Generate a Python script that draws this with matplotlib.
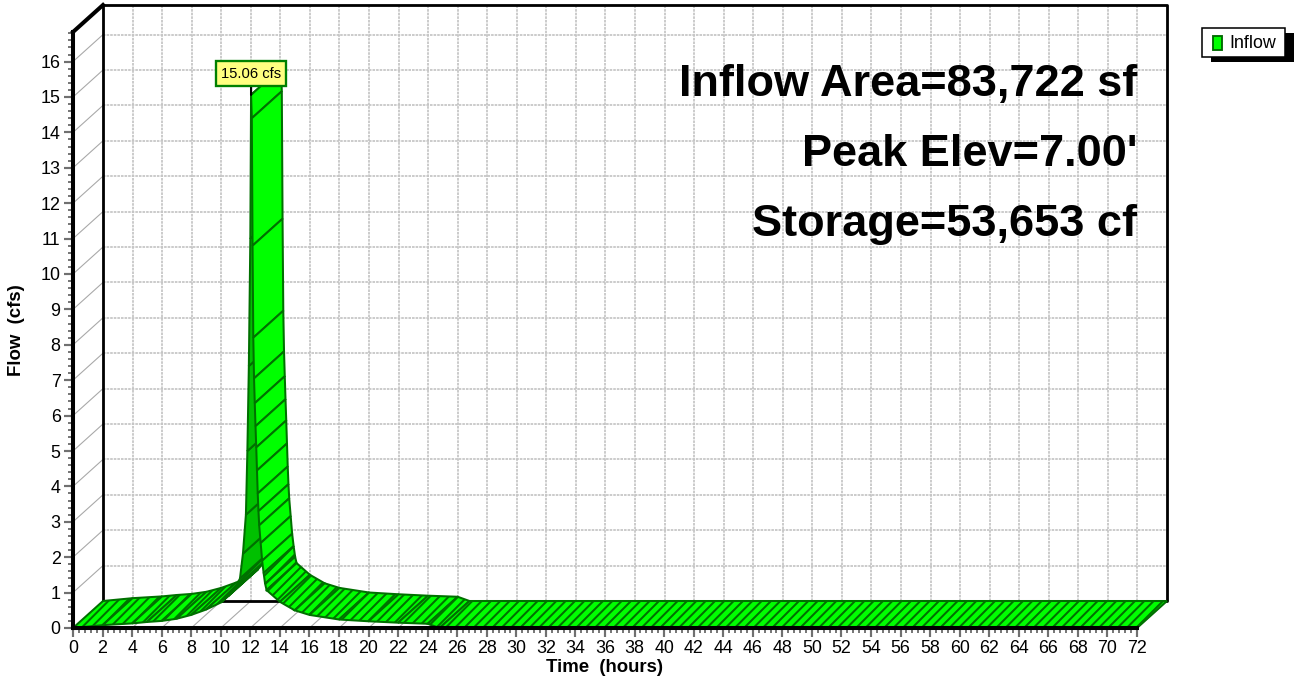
import numpy as np
import matplotlib
matplotlib.use('Agg')
import matplotlib.pyplot as plt
from matplotlib.patches import Polygon, Rectangle

matplotlib.rcParams.update({
    'font.family': ['Liberation Sans', 'DejaVu Sans'],
    'hatch.linewidth': 1.3,
})

# inflow hydrograph
hours = [0, 2, 4, 5, 6, 7, 8, 9, 10, 10.5, 11, 11.3, 11.5, 11.7, 11.8, 11.9, 12.0, 12.05,
         12.10, 12.15, 12.20, 12.25, 12.30, 12.35, 12.40, 12.45, 12.50, 12.55, 12.60,
         12.7, 12.8, 12.9, 13.0, 13.1, 14.0, 15.0, 16.0, 18.0, 20.0, 22.0, 24.0, 24.8, 72.0]
flow = [0.0, 0.08, 0.13, 0.17, 0.20, 0.26, 0.37, 0.52, 0.72, 0.90, 1.15, 1.40, 2.1, 3.2, 5.0, 7.4, 11.0, 15.06,
        14.4, 10.8, 8.2, 7.05, 6.35, 5.7, 5.1, 4.45, 3.8, 3.3, 2.9,
        2.4, 1.9, 1.55, 1.25, 1.07, 0.74, 0.50, 0.37, 0.24, 0.19, 0.15, 0.12, 0.0, 0.0]

x_ticks = list(range(0, 73, 2))
y_ticks = list(range(0, 17))
info_lines = ["Inflow Area=83,722 sf", "Peak Elev=7.00'", "Storage=53,653 cf"]
series_name = "Inflow"

W, H, DPI = 1294, 686, 112
# pixel layout of the 3d box
X0, X72, Y0 = 73, 1137, 628
XS = (X72 - X0) / 72.0        # px per hour
YS = 35.4                     # px per cfs
DX = 30 / XS                  # depth offset in data units
DY = 27 / YS
YMAX = (Y0 - 32) / YS
XEND = 72

fig = plt.figure(figsize=(W / DPI, H / DPI), dpi=DPI)
ax = fig.add_axes([X0 / W, (H - Y0) / H, (X72 + 30 - X0) / W, (Y0 - 5) / H])
ax.set_xlim(0, XEND + DX)
ax.set_ylim(0, YMAX + DY)
ax.set_facecolor('none')

for s in ['top', 'right']:
    ax.spines[s].set_visible(False)
ax.spines['left'].set_bounds(0, YMAX)
ax.spines['bottom'].set_bounds(0, XEND)
for s in ['left', 'bottom']:
    ax.spines[s].set_linewidth(2.6)
    ax.spines[s].set_zorder(6)

ax.set_xticks(x_ticks)
ax.set_xticks(np.arange(0, XEND + 0.01, 0.4), minor=True)
ax.set_yticks(y_ticks)
ax.set_yticks(np.arange(0, YMAX, 0.2), minor=True)
ax.tick_params(which='major', length=6, width=1.4, color='#707070', labelsize=11.5, pad=2)
ax.tick_params(which='minor', length=3.5, width=1.2, color='#707070')

grid_kw = dict(color='#c4c4c4', lw=1.1, ls=(0, (1.5, 0.6)), zorder=1, clip_on=False)
diag_kw = dict(color='#a8a8a8', lw=0.7, zorder=1, clip_on=False)
# back wall grid
for x in x_ticks[1:-1]:
    ax.plot([x + DX, x + DX], [DY, YMAX + DY], **grid_kw)
for y in y_ticks[1:]:
    ax.plot([DX, XEND + DX], [y + DY, y + DY], **grid_kw)
# floor and left wall
for x in x_ticks[1:]:
    ax.plot([x, x + DX], [0, DY], **diag_kw)
for y in y_ticks[1:]:
    ax.plot([0, DX], [y, y + DY], **diag_kw)

# frame of the back wall
ax.plot([DX, DX, XEND + DX, XEND + DX, DX], [DY, YMAX + DY, YMAX + DY, DY, DY],
        color='black', lw=1.8, zorder=1.5, clip_on=False)
ax.plot([0, DX], [YMAX, YMAX + DY], color='black', lw=2.6, zorder=6, clip_on=False)

# ribbon facets
for i in range(len(hours) - 1):
    t0, t1 = hours[i], hours[i + 1]
    q0, q1 = flow[i], flow[i + 1]
    quad = [(t0, q0), (t1, q1), (t1 + DX, q1 + DY), (t0 + DX, q0 + DY)]
    cross = (t1 - t0) * XS * 27 - (q1 - q0) * YS * 30
    face = '#00ff00' if cross >= 0 else '#00c000'
    steep = abs(q1 - q0) * YS > 8 * (t1 - t0) * XS
    ax.add_patch(Polygon(quad, closed=True, fc=face, ec='#007000', lw=1.3,
                         hatch=None if steep else '////', zorder=3, clip_on=False))

# peak label
ipk = int(np.argmax(flow))
ax.annotate(f"{flow[ipk]:.2f} cfs", xy=(hours[ipk], flow[ipk]),
            xytext=(hours[ipk], flow[ipk] + 0.6), ha='center', va='center',
            fontsize=9.5, zorder=7,
            bbox=dict(boxstyle='square,pad=0.35', fc='#ffff80', ec='#008000', lw=1.5),
            arrowprops=dict(arrowstyle='-', color='black', lw=1.4, shrinkA=0, shrinkB=0))

# summary text
for k, line in enumerate(info_lines):
    fig.text(X72 / W, 1 - (96 + 70 * k) / H, line, ha='right', va='baseline',
             fontsize=29, fontweight='bold')

fig.text(605 / W, 1 - 668 / H, "Time  (hours)", ha='center', va='center',
         fontsize=12, fontweight='bold')
fig.text(17 / W, 1 - 330 / H, "Flow  (cfs)", ha='center', va='center',
         rotation=90, fontsize=12, fontweight='bold')

# legend
fig.patches.append(Rectangle((1211 / W, 1 - 62 / H), 84 / W, 29 / H, fc='black',
                             ec='none', transform=fig.transFigure, figure=fig))
fig.patches.append(Rectangle((1202 / W, 1 - 57 / H), 83 / W, 29 / H, fc='white',
                             ec='black', lw=1, transform=fig.transFigure, figure=fig))
fig.patches.append(Rectangle((1213 / W, 1 - 50 / H), 9 / W, 14 / H, fc='#00ff00',
                             ec='#006a00', lw=1.2, transform=fig.transFigure, figure=fig))
fig.text(1229 / W, 1 - 43 / H, series_name, ha='left', va='center', fontsize=11.5)

fig.savefig('out.png', dpi=DPI)
